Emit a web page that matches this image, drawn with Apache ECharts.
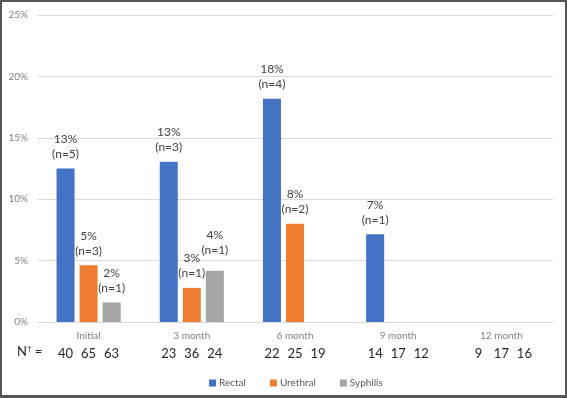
<!DOCTYPE html>
<html>
<head>
<meta charset="utf-8">
<script src="https://cdn.jsdelivr.net/npm/echarts@6/dist/echarts.min.js"></script>
<style>
html,body{margin:0;padding:0;background:#fff;}
#wrap{width:567px;height:398px;box-sizing:border-box;border:2px solid #555;border-bottom-width:3px;position:relative;background:#fff;}
#chart{position:absolute;left:-2px;top:-2px;width:567px;height:398px;}
</style>
</head>
<body>
<div id="wrap"><div id="chart"></div></div>
<script>
const categories = ['Initial', '3 month', '6 month', '9 month', '12 month'];
const rectalPct   = [12.5, 13.04, 18.18, 7.14, null];
const urethralPct = [4.62, 2.78, 8.0, null, null];
const syphilisPct = [1.59, 4.17, null, null, null];
const rectalLabel   = ['13%', '13%', '18%', '7%', ''];
const urethralLabel = ['5%', '3%', '8%', '', ''];
const syphilisLabel = ['2%', '4%', '', '', ''];
const rectalCount   = [5, 3, 4, 1, null];
const urethralCount = [3, 1, 2, null, null];
const syphilisCount = [1, 1, null, null, null];
const rectalN   = [40, 23, 22, 14, 9];
const urethralN = [65, 36, 25, 17, 17];
const syphilisN = [63, 24, 19, 12, 16];
const yTicks = [0, 5, 10, 15, 20, 25];

const chart = echarts.init(document.getElementById('chart'));
const FONT = 'Lato, "Open Sans", sans-serif';

function mkData(vals, lbls, counts, extraDist) {
  return vals.map((v, i) => {
    const d = { value: v, lbl: lbls[i], cnt: counts[i] };
    if (extraDist && extraDist[i]) d.label = { distance: 7 + extraDist[i] };
    return d;
  });
}
function labelCfg() {
  return {
    show: true, position: 'top', distance: 7,
    color: '#404040', fontSize: 12, fontFamily: FONT, lineHeight: 15,
    formatter: p => (p.data.value == null ? '' : p.data.lbl + '\n(n=' + p.data.cnt + ')')
  };
}

chart.setOption({
  animation: false,
  textStyle: { fontFamily: FONT },
  grid: { left: 37, right: 14, top: 15, bottom: 76 },
  legend: {
    left: 204, top: 373, icon: 'rect', itemWidth: 7, itemHeight: 7, itemGap: 24,
    textStyle: { color: '#595959', fontSize: 10, fontFamily: FONT, padding: [0, 0, 0, -2] },
    data: ['Rectal', 'Urethral', 'Syphilis']
  },
  xAxis: [
    {
      type: 'category', data: categories,
      axisLine: { lineStyle: { color: '#d9d9d9' } },
      axisTick: { show: false },
      axisLabel: { color: '#7f7f7f', fontSize: 10, margin: 9, fontFamily: FONT }
    },
    {
      type: 'category', data: categories, position: 'bottom',
      axisLine: { show: false }, axisTick: { show: false }, splitLine: { show: false },
      axisLabel: {
        margin: 25, interval: 0,
        formatter: (v, i) => '{c|' + rectalN[i] + '}{c|' + urethralN[i] + '}{c|' + syphilisN[i] + '}',
        rich: { c: { width: 23, align: 'center', fontSize: 13, color: '#262626', fontFamily: FONT } }
      }
    }
  ],
  yAxis: {
    type: 'value', min: yTicks[0], max: yTicks[yTicks.length - 1], interval: 5,
    axisLine: { show: false }, axisTick: { show: false },
    splitLine: { lineStyle: { color: '#d9d9d9' } },
    axisLabel: { formatter: '{value}%', color: '#7f7f7f', fontSize: 10, margin: 9, fontFamily: FONT }
  },
  graphic: [{
    type: 'text', left: 17, top: 345,
    style: {
      text: 'N{s|†} =', fill: '#262626', fontSize: 13, fontFamily: FONT,
      rich: { s: { fontSize: 8, verticalAlign: 'top', padding: [0, 0, 6, 0], fill: '#262626' } }
    }
  }],
  series: [
    { name: 'Rectal', type: 'bar', barWidth: 18, barGap: '28%', itemStyle: { color: '#4472C4' },
      data: mkData(rectalPct, rectalLabel, rectalCount), label: labelCfg() },
    { name: 'Urethral', type: 'bar', barWidth: 18, barGap: '28%', itemStyle: { color: '#ED7D31' },
      data: mkData(urethralPct, urethralLabel, urethralCount), label: labelCfg() },
    { name: 'Syphilis', type: 'bar', barWidth: 18, barGap: '28%', itemStyle: { color: '#A5A5A5' },
      data: mkData(syphilisPct, syphilisLabel, syphilisCount, [0, 6, 0, 0, 0]), label: labelCfg() }
  ]
});
</script>
</body>
</html>
